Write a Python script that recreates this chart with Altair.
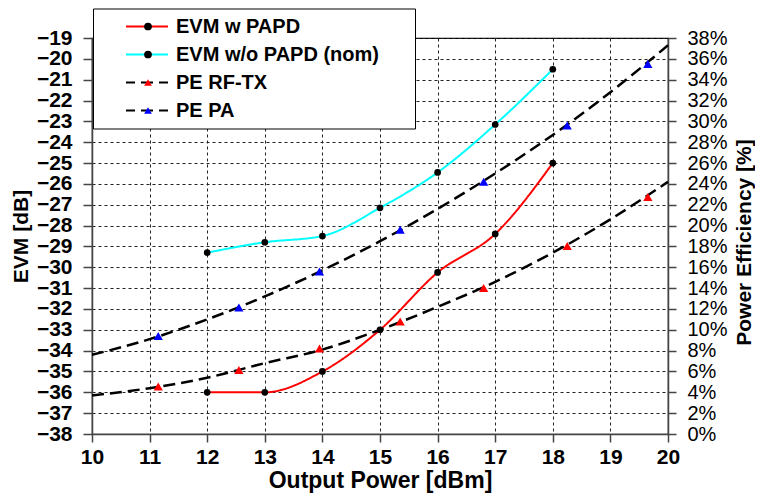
import altair as alt
import pandas as pd

# ---------------- data ----------------
SERIES = ["EVM w PAPD", "EVM w/o PAPD (nom)", "PE RF-TX", "PE PA"]

X_EVM = [12, 13, 14, 15, 16, 17, 18]
EVM_W_PAPD = [-36.0, -36.0, -35.0, -33.0, -30.25, -28.4, -25.0]
EVM_WO_PAPD = [-29.3, -28.8, -28.5, -27.15, -25.45, -23.15, -20.5]

X_PE_MARKERS = [11.15, 12.55, 13.95, 15.35, 16.8, 18.25, 19.65]
PE_RFTX_MARKERS = [4.55, 6.15, 8.2, 10.8, 14.0, 18.05, 22.75]
PE_PA_MARKERS = [9.4, 12.15, 15.6, 19.6, 24.2, 29.6, 35.5]

X_PE_TREND = [10, 11, 12, 13, 14, 15, 16, 17, 18, 19, 20]
PE_RFTX_TREND = [3.7, 4.4, 5.4, 6.8, 8.1, 10.0, 12.2, 14.6, 17.4, 20.6, 24.2]
PE_PA_TREND = [7.6, 9.1, 11.0, 13.2, 15.7, 18.5, 21.6, 25.0, 28.7, 32.8, 37.3]

X_TICKS = list(range(10, 21))
EVM_TICKS = list(range(-38, -18))
PE_TICKS = list(range(0, 39, 2))

# ---------------- styles ----------------
LINE_COLORS = ["#ff0000", "#00ffff", "#000000", "#000000"]
LINE_DASHES = [[1, 0], [1, 0], [12, 6], [12, 6]]
MARKER_FILLS = ["#000000", "#000000", "#ff0000", "#0000ff"]
MARKER_SHAPES = ["circle", "circle", "triangle-up", "triangle-up"]
FONT = "Liberation Sans"
PAD_RIGHT = "\u00a0" * 5 + "\u200b"   # widens the legend box to the right

evm_df = pd.DataFrame({
    "x": X_EVM + X_EVM,
    "evm": EVM_W_PAPD + EVM_WO_PAPD,
    "series": [SERIES[0]] * len(X_EVM) + [SERIES[1]] * len(X_EVM),
})
pe_trend_df = pd.DataFrame({
    "x": X_PE_TREND + X_PE_TREND,
    "pe": PE_RFTX_TREND + PE_PA_TREND,
    "series": [SERIES[2]] * len(X_PE_TREND) + [SERIES[3]] * len(X_PE_TREND),
})
pe_mark_df = pd.DataFrame({
    "x": X_PE_MARKERS + X_PE_MARKERS,
    "pe": PE_RFTX_MARKERS + PE_PA_MARKERS,
    "series": [SERIES[2]] * len(X_PE_MARKERS) + [SERIES[3]] * len(X_PE_MARKERS),
})

legend_lines = alt.Legend(
    title=None, orient="none", legendX=1, legendY=-29.5,
    fillColor="white", strokeColor="black", padding=8,
    symbolType="stroke", symbolSize=1764, symbolStrokeWidth=2,
    symbolDashOffset=3, clipHeight=20,
    symbolOffset=24, labelOffset=7,
    labelFont=FONT, labelFontSize=20, labelFontWeight="bold", labelColor="black",
    labelLimit=500, rowPadding=8, zindex=1,
    labelExpr="datum.label + '" + PAD_RIGHT + "'",
)
legend_marks = alt.Legend(
    title=None, orient="none", legendX=1, legendY=-29.5, padding=8,
    values=SERIES, symbolSize=60, symbolStrokeWidth=0, symbolOffset=37, clipHeight=20,
    labelFont=FONT, labelFontSize=20, labelFontWeight="bold", labelExpr="''",
    labelLimit=500, rowPadding=8, zindex=2,
)

X_ENC = alt.X("x:Q", scale=alt.Scale(domain=[10, 20], nice=False, zero=False),
              axis=alt.Axis(values=X_TICKS, title="Output Power [dBm]", grid=True,
                            tickSize=8, labelPadding=4, labelFontSize=21,
                            labelFontWeight="bold", titleFontSize=23,
                            titleFontWeight="bold", titlePadding=2, format="d"))
EVM_Y = alt.Y("evm:Q", scale=alt.Scale(domain=[-38, -19], nice=False, zero=False),
              axis=alt.Axis(orient="left", values=EVM_TICKS, title="EVM [dB]", grid=True,
                            tickSize=9, labelPadding=11, labelFontSize=21,
                            labelFontWeight="bold", titleFontSize=21,
                            titleFontWeight="bold", titlePadding=5, format="d"))
PE_Y = alt.Y("pe:Q", scale=alt.Scale(domain=[0, 38], nice=False, zero=False),
             axis=alt.Axis(orient="right", values=PE_TICKS, labelExpr="datum.value + '%'",
                           title="Power Efficiency [%]", grid=False, tickSize=8,
                           labelPadding=11, labelFontSize=20, labelFontWeight="normal",
                           titleFontSize=21, titleFontWeight="bold", titleAngle=270,
                           titleBaseline="top", titlePadding=6, titleY=204))

STROKE = alt.Stroke("series:N", scale=alt.Scale(domain=SERIES, range=LINE_COLORS),
                    legend=legend_lines)
DASH = alt.StrokeDash("series:N", scale=alt.Scale(domain=SERIES, range=LINE_DASHES),
                      legend=legend_lines)
FILL = alt.Fill("series:N", scale=alt.Scale(domain=SERIES[::-1], range=MARKER_FILLS[::-1]),
                legend=legend_marks)
SHAPE = alt.Shape("series:N", scale=alt.Scale(domain=SERIES[::-1], range=MARKER_SHAPES[::-1]),
                  legend=legend_marks)

evm_lines = alt.Chart(evm_df).mark_line(interpolate="monotone", strokeWidth=2).encode(
    x=X_ENC, y=EVM_Y, stroke=STROKE, strokeDash=DASH)
evm_pts = alt.Chart(evm_df).mark_point(filled=True, size=45, opacity=1).encode(
    x=X_ENC, y=EVM_Y, fill=FILL, shape=SHAPE)

pe_lines = alt.Chart(pe_trend_df).mark_line(interpolate="monotone", strokeWidth=2.5).encode(
    x=X_ENC, y=PE_Y, stroke=STROKE, strokeDash=DASH)
pe_pts = alt.Chart(pe_mark_df).mark_point(filled=True, size=85, opacity=1).encode(
    x=X_ENC, y=PE_Y, fill=FILL, shape=SHAPE)

left = alt.layer(evm_lines, evm_pts)
right = alt.layer(pe_lines, pe_pts)

chart = (
    alt.layer(left, right)
    .resolve_scale(y="independent")
    .properties(width=576, height=396, autosize="none",
                padding={"left": 84, "top": 30, "right": 87, "bottom": 63})
    .configure_view(stroke="black", strokeWidth=1.2)
    .configure_axis(labelFont=FONT, titleFont=FONT, labelColor="black", titleColor="black",
                    domainColor="#444", domainWidth=1.5, tickColor="#444", tickWidth=1.5,
                    gridColor="#222", gridDash=[3, 3], gridWidth=1, gridOpacity=1,
                    labelOverlap=False, labelFlush=False)
)

chart.save("out.html", embed_options={"renderer": "svg", "actions": False})
